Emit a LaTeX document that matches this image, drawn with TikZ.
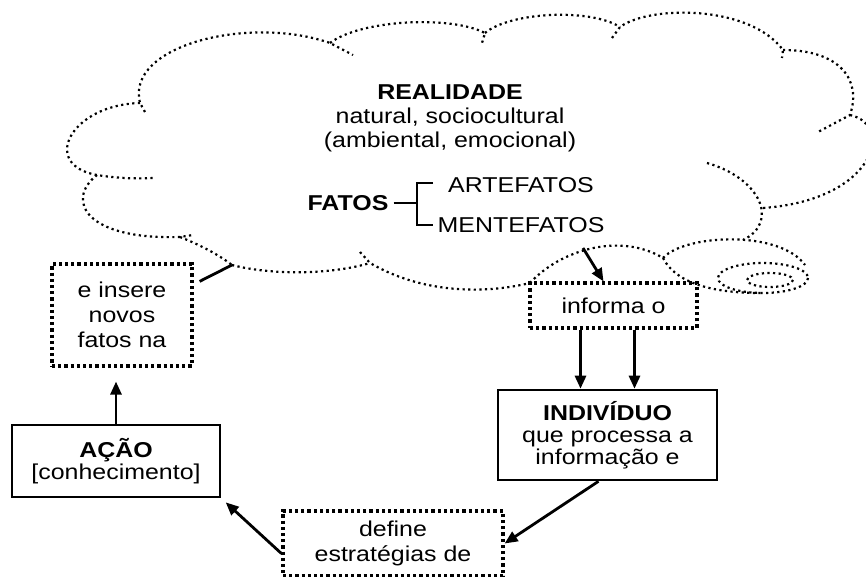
\documentclass[tikz,border=0pt]{standalone}
\usepackage{fontspec}
\setmainfont{Liberation Sans}[FakeStretch=1.16]
\usetikzlibrary{arrows.meta}

\begin{document}
\begin{tikzpicture}[x=1pt,y=-1pt,
  lbl/.style={inner sep=0pt,font=\fontsize{21.5}{24}\selectfont},
  txt/.style={inner sep=0pt,align=center,font=\fontsize{21.5}{24}\selectfont},
  dotbox/.style={draw,line width=3.2pt,dash pattern=on 3.2pt off 3pt,inner sep=0pt,align=center,font=\fontsize{21.5}{25}\selectfont},
  solidbox/.style={draw,line width=2.6pt,inner sep=0pt,align=center,font=\fontsize{21.5}{22}\selectfont},
  arr/.style={line width=2.8pt,-{Triangle[length=13pt,width=11pt]}},
  cloudline/.style={line width=2.2pt,dash pattern=on 2.2pt off 3.4pt}]
  \clip (0,0) rectangle (866,577);
  \fill[white] (0,0) rectangle (866,577);
  % nuvem
  \draw[cloudline] (145,112) -- (140,103) .. controls (125,45) and (250,15) .. (330,43) -- (353,55);
  \draw[cloudline] (330,43) .. controls (360,20) and (450,15) .. (485,33) -- (482,43);
  \draw[cloudline] (485,33) .. controls (510,12) and (590,8) .. (620,27);
  \draw[cloudline] (612,38) -- (620,27) .. controls (650,5) and (750,5) .. (783,50) -- (782,58);
  \draw[cloudline] (783,50) .. controls (840,50) and (862,80) .. (850,115) -- (818,132);
  \draw[cloudline] (850,115) .. controls (895,125) and (875,200) .. (763,208);
  \draw[cloudline] (707,163) .. controls (760,178) and (780,222) .. (743,240);
  \draw[cloudline] (663,258) .. controls (685,234) and (780,230) .. (805,265);
  \draw[cloudline] (663,258) .. controls (675,282) and (710,293) .. (760,293);
  \draw[cloudline] (763,278) ellipse [x radius=45, y radius=15];
  \draw[cloudline] (770,280) ellipse [x radius=23, y radius=7];
  \draw[cloudline] (530,283) .. controls (560,250) and (620,232) .. (663,258);
  \draw[cloudline] (360,252) -- (370,263) .. controls (420,292) and (480,295) .. (530,283);
  \draw[cloudline] (232,265) .. controls (270,275) and (330,275) .. (370,263);
  \draw[cloudline] (180,237) .. controls (195,243) and (215,252) .. (232,265);
  \draw[cloudline] (97,175) .. controls (65,200) and (85,240) .. (180,237) -- (193,235);
  \draw[cloudline] (140,103) .. controls (70,105) and (40,165) .. (97,175) .. controls (115,178) and (135,179) .. (153,178);
  \coordinate (cloudout) at (583,248);
  \coordinate (cloudin) at (232,265);
  % textos da nuvem
  \node[txt] (realidade) at (450,118) {\textbf{REALIDADE}\\natural, sociocultural\\(ambiental, emocional)};
  \node[lbl] (fatos) at (348,203) {\textbf{FATOS}};
  \node[lbl] (artefatos) at (521,185) {ARTEFATOS};
  \node[lbl] (mentefatos) at (521,225) {MENTEFATOS};
  \coordinate (brk) at (417,203);
  \draw[line width=1.2pt] ([xshift=5pt]fatos.east) -- (brk);
  \draw[line width=1.2pt] ([xshift=-15pt,yshift=2pt]artefatos.west) -| (brk) |- ([xshift=-4pt]mentefatos.west);
  % caixas
  \node[dotbox,minimum width=140pt,minimum height=102pt] (insere) at (122,315) {e insere\\novos\\fatos na};
  \node[solidbox,minimum width=208pt,minimum height=72pt] (acao) at (116,461) {\textbf{AÇÃO}\\{[conhecimento]}};
  \node[dotbox,minimum width=167pt,minimum height=45pt] (informa) at (613.5,305.5) {informa o};
  \node[solidbox,minimum width=219pt,minimum height=90pt] (individuo) at (607.5,435) {\textbf{INDIVÍDUO}\\que processa a\\informação e};
  \node[dotbox,minimum width=220pt,minimum height=65pt] (define) at (393,543.5) {define\\estratégias de};
  % setas
  \draw[arr] (cloudout) -- ([xshift=-10pt]informa.north);
  \draw[arr] ([xshift=-33pt]informa.south) -- ([xshift=-33pt]informa.south |- individuo.north);
  \draw[arr] ([xshift=21pt]informa.south) -- ([xshift=21pt]informa.south |- individuo.north);
  \draw[arr] ([xshift=-9pt]individuo.south) -- (define.east);
  \draw[arr,shorten >=6pt] ([yshift=-10pt]define.west) -- (acao.south east);
  \draw[arr,shorten >=14pt] (acao.north) -- (acao.north |- insere.south);
  \draw[line width=2.8pt] ([xshift=6pt,yshift=-19pt]insere.north east) -- (cloudin);
\end{tikzpicture}
\end{document}
